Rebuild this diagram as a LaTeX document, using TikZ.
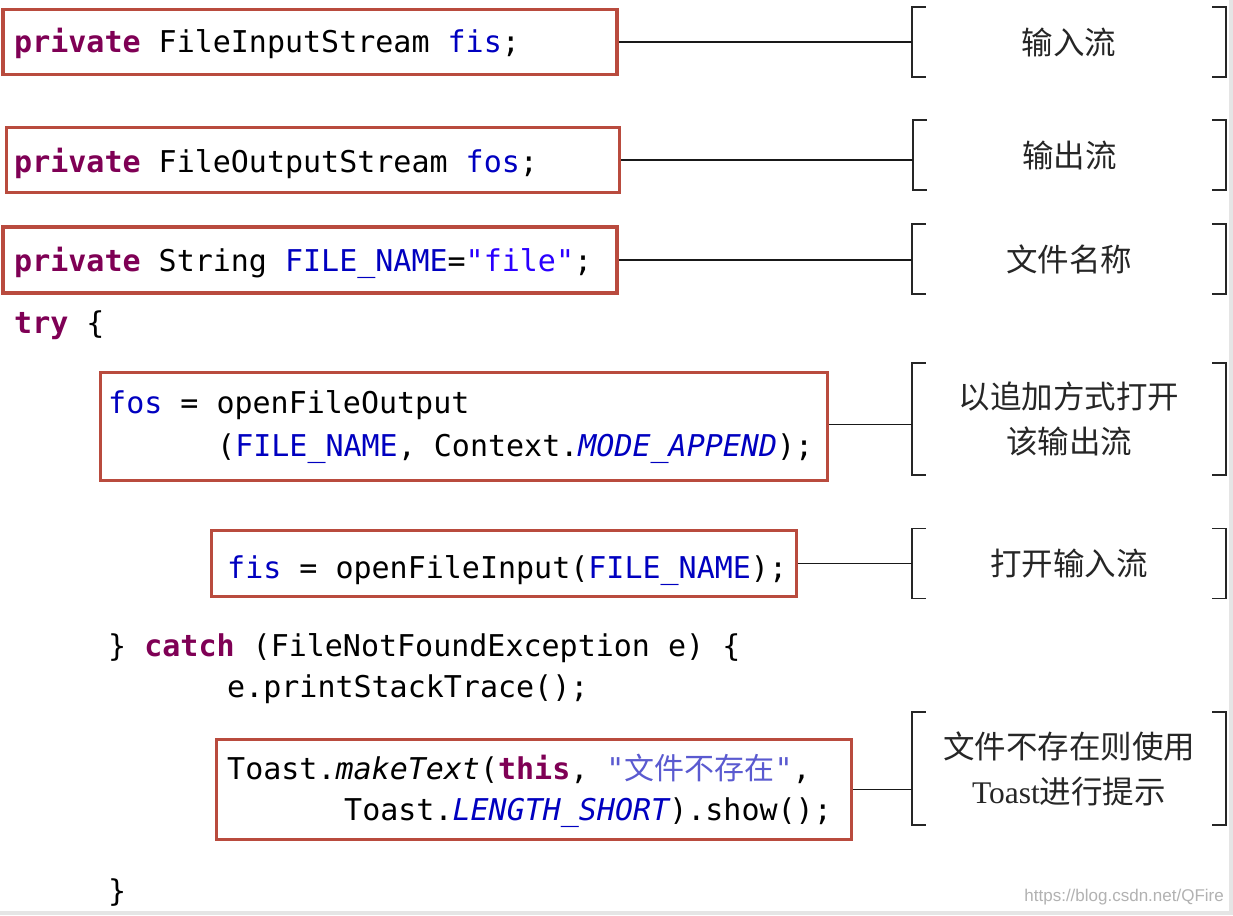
\documentclass[tikz,border=0pt]{standalone}
\usepackage{fontspec}
\setmonofont{DejaVu Sans Mono}
\newfontfamily\cjk{Noto Sans CJK SC}
\newfontfamily\lserif{Liberation Serif}
\newfontfamily\lsans{Liberation Sans}
\definecolor{boxred}{HTML}{B94B3E}
\definecolor{kw}{HTML}{7F0055}
\definecolor{fld}{HTML}{0000C0}
\definecolor{strc}{HTML}{2A00FF}
\definecolor{cstr}{HTML}{5A5AD0}
\newcommand{\kw}[1]{{\bfseries\color{kw}#1}}
\newcommand{\fld}[1]{{\color{fld}#1}}
\newcommand{\sfld}[1]{{\itshape\color{fld}#1}}
\begin{document}
\begin{tikzpicture}[x=1pt,y=-1pt,
  code/.style={anchor=base west, inner sep=0pt, font=\ttfamily\fontsize{30}{36}\selectfont},
  redbox/.style={draw=boxred, line width=3.6pt, inner sep=0pt},
  note/.style={inner sep=0pt, font=\cjk\fontsize{31.5}{45}\selectfont, text=black!85, align=center},
  conn/.style={draw=black!90, line width=1.3pt},
  brk/.style={draw=black!85, line width=1.5pt}]
\useasboundingbox (0,0) rectangle (1233,915);
\fill[white] (0,0) rectangle (1233,915);
\fill[black!10] (1229,0) rectangle (1233,915);
\fill[black!10] (0,911) rectangle (1233,915);

% red boxes
\node[redbox, minimum width=614pt, minimum height=65pt] (b1) at (310,42) {};
\node[redbox, minimum width=613pt, minimum height=65pt] (b2) at (313,160) {};
\node[redbox, minimum width=614pt, minimum height=66pt] (b3) at (310,260) {};
\node[redbox, minimum width=727pt, minimum height=108pt] (b4) at (464,426.5) {};
\node[redbox, minimum width=585pt, minimum height=66pt] (b5) at (504,563.5) {};
\node[redbox, minimum width=635pt, minimum height=100pt] (b6) at (534,789.5) {};

% code text
\node[code] (t1) at (14,53) {\kw{private} FileInputStream \fld{fis};};
\node[code] (t2) at (14,172) {\kw{private} FileOutputStream \fld{fos};};
\node[code] (t3) at (14,271) {\kw{private} String \fld{FILE\_NAME}={\color{strc}"file"};};
\node[code] (t4) at (14,333) {\kw{try} \{};
\node[code] (t5) at (108,413) {\fld{fos} = openFileOutput};
\node[code] (t6) at (217,456) {(\fld{FILE\_NAME}, Context.\sfld{MODE\_APPEND});};
\node[code] (t7) at (227,578) {\fld{fis} = openFileInput(\fld{FILE\_NAME});};
\node[code] (t8) at (108,656) {\} \kw{catch} (FileNotFoundException e) \{};
\node[code] (t9) at (227,697) {e.printStackTrace();};
\node[code] (t10) at (227,779) {Toast.\textit{makeText}(\kw{this}, {\color{cstr}"{\cjk\fontsize{30}{36}\selectfont 文件不存在}"},};
\node[code] (t11) at (344,820) {Toast.\sfld{LENGTH\_SHORT}).show();};
\node[code] (t12) at (108,901) {\}};

% bracket label nodes
\node[note, minimum width=314pt, minimum height=70pt] (br1) at (1069,42) {输入流};
\node[note, minimum width=313pt, minimum height=70pt] (br2) at (1069.5,155) {输出流};
\node[note, minimum width=314pt, minimum height=70pt] (br3) at (1069,259) {文件名称};
\node[note, minimum width=314pt, minimum height=112pt] (br4) at (1069,419) {以追加方式打开\\该输出流};
\node[note, minimum width=314pt, minimum height=70pt] (br5) at (1069,563.5) {打开输入流};
\node[note, minimum width=314pt, minimum height=113pt] (br6) at (1069,768.5) {文件不存在则使用\\{\lserif Toast}进行提示};

\foreach \n in {br1,br2,br3,br4,br5,br6}{
  \draw[brk] ([xshift=14pt]\n.north west) -- (\n.north west) -- (\n.south west) -- ([xshift=14pt]\n.south west);
  \draw[brk] ([xshift=-14pt]\n.north east) -- (\n.north east) -- (\n.south east) -- ([xshift=-14pt]\n.south east);
}

% connectors
\draw[conn] (b1.east) -- (b1.east -| br1.west);
\draw[conn] (b2.east) -- (b2.east -| br2.west);
\draw[conn] (b3.east) -- (b3.east -| br3.west);
\draw[conn] ([yshift=2pt]b4.east) -- ([yshift=2pt]b4.east -| br4.west);
\draw[conn] (b5.east) -- (b5.east -| br5.west);
\draw[conn] (b6.east) -- (b6.east -| br6.west);

% watermark
\node[anchor=base east, inner sep=0pt, font=\lsans\fontsize{17}{20}\selectfont, text=black!30] (wm) at (1224,901) {https://blog.csdn.net/QFire};
\end{tikzpicture}
\end{document}
